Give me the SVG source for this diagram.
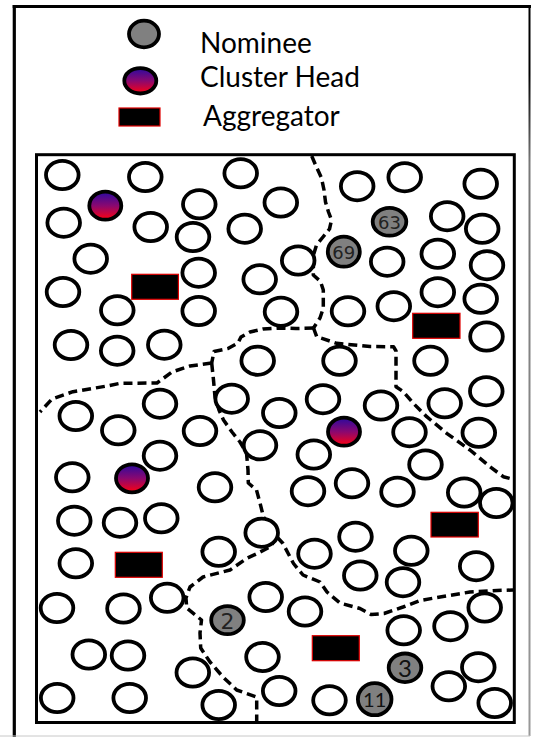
<svg xmlns="http://www.w3.org/2000/svg" width="533" height="737" viewBox="0 0 533 737">
  <style>
    .frame { fill: none; stroke: #000; }
    .n { fill: #fff; stroke: #000; stroke-width: 3.8; }
    .nom { fill: #808080; stroke: #000; stroke-width: 3.8; }
    .ch { fill: url(#chGrad); stroke: #000; stroke-width: 3.8; }
    .agg { fill: #000; stroke: #e00000; stroke-width: 1.2; }
    .legend { font-family: Lato, "Open Sans", sans-serif; font-size: 28px; fill: #000; }
    .num { font-family: "DejaVu Sans", sans-serif; fill: #222; text-anchor: middle; }
    .numc { font-family: Lato, "Open Sans", sans-serif; fill: #111; text-anchor: middle; }
    .border { fill: none; stroke: #000; stroke-width: 3.5; stroke-dasharray: 9 5; stroke-linejoin: round; stroke-linecap: butt; }
  </style>
  <defs>
    <linearGradient id="chGrad" x1="0" y1="0" x2="0" y2="1">
      <stop offset="0" stop-color="#2a0aa0"/>
      <stop offset="0.5" stop-color="#8a0870"/>
      <stop offset="1" stop-color="#ff0010"/>
    </linearGradient>
    <linearGradient id="edgeGrad" x1="0" y1="0" x2="0" y2="737" gradientUnits="userSpaceOnUse">
      <stop offset="0" stop-color="#000"/>
      <stop offset="0.1" stop-color="#000"/>
      <stop offset="0.22" stop-color="#777"/>
      <stop offset="1" stop-color="#999"/>
    </linearGradient>
  </defs>

  <rect width="533" height="737" fill="#fff"/>

  <!-- page frame -->
  <g id="page-frame">
    <line x1="12.7" y1="6.5" x2="531" y2="6.5" stroke="#000" stroke-width="3"/>
    <line x1="14.3" y1="5" x2="14.3" y2="737" stroke="#000" stroke-width="3.2"/>
    <line x1="529.5" y1="5" x2="529.5" y2="736" stroke="url(#edgeGrad)" stroke-width="2"/>
    <line x1="0" y1="736" x2="530" y2="736" stroke="#c8c8c8" stroke-width="1"/>
  </g>

  <!-- legend -->
  <g id="legend">
    <g id="legend-nominee">
      <ellipse class="nom" cx="144" cy="34" rx="15" ry="13.3"/>
      <text class="legend" x="200" y="52.5">Nominee</text>
    </g>
    <g id="legend-cluster-head">
      <ellipse class="ch" cx="140.3" cy="80.8" rx="16" ry="12.7"/>
      <text class="legend" x="200" y="86.5">Cluster Head</text>
    </g>
    <g id="legend-aggregator">
      <rect class="agg" x="119" y="108" width="41" height="18"/>
      <text class="legend" x="203" y="125.5">Aggregator</text>
    </g>
  </g>

  <!-- field -->
  <rect id="field" x="36.5" y="154.7" width="477.8" height="567.8" fill="none" stroke="#000" stroke-width="3"/>

  <!-- cluster boundaries -->
  <g id="connectors">
    <path class="border" d="M311.7,156 L316,166 L321.5,178 L324,190 L325.5,202 L328.5,212 L331.5,220 L329.5,229 L323,237 L316.5,245 L313.5,255 L313.3,275 L320.5,281.5 L323.3,290 L323.3,308 L320,318 L313.5,328"/>
    <path class="border" d="M313.5,328 L296,328.5 L280,328 L263,329 L250,332 L241,337 L238,343 L228,348.5 L214,351.5 L211.7,363"/>
    <path class="border" d="M211.7,363 L190,366 L172,372 L157,383 L120,383.3 L107,386 L73,391.7 L52,399 L40,412"/>
    <path class="border" d="M211.7,363 L213.5,380 L215,397 L219,410 L223.5,420 L232,432 L240,442 L246.5,453 L248,470 L248.3,483 L256.5,490 L260,503 L263.5,517 L270,528 L277,537"/>
    <path class="border" d="M277,537 L283,543.5 L289,555 L293.5,563.5 L303,575 L320,582 L327,592 L340,603 L360,608.5 L371,614.5 L384,613.5 L403,607 L420,600.5 L443,596.5 L470,592 L497,590.5 L513,590"/>
    <path class="border" d="M277,537 L270,547 L256,554 L246.5,558.5 L230,570 L203,577 L190,587 L186,598 L186.7,608 L201.5,620 L200,633 L200.7,648 L210,662 L223,677 L236.7,690 L256.7,697 L256.7,721"/>
    <path class="border" d="M313.5,328 L316.7,336.7 L336.7,343.3 L370,346.5 L393.5,346.7 L396,351 L396,386.7 L403.3,391.7 L413.3,403.3 L426.7,416.7 L446.7,433.3 L470,450 L490,466.7 L503.3,476.7 L510,478.5"/>
  </g>

  <!-- sensor nodes -->
  <g id="nodes">
    <g id="n1"><ellipse class="n" cx="62.3" cy="175" rx="16.3" ry="14.1"/></g>
    <g id="n2"><ellipse class="n" cx="145.3" cy="177" rx="16.3" ry="14.1"/></g>
    <g id="n3"><ellipse class="n" cx="240.7" cy="173.3" rx="16.3" ry="14.1"/></g>
    <g id="n4"><ellipse class="n" cx="199.3" cy="204.3" rx="16.3" ry="14.1"/></g>
    <g id="n5"><ellipse class="n" cx="280.8" cy="202.5" rx="16.3" ry="14.1"/></g>
    <g id="n6"><ellipse class="n" cx="63.7" cy="222.7" rx="16.3" ry="14.1"/></g>
    <g id="n7"><ellipse class="n" cx="150.7" cy="227" rx="16.3" ry="14.1"/></g>
    <g id="n8"><ellipse class="n" cx="193" cy="237" rx="16.3" ry="14.1"/></g>
    <g id="n9"><ellipse class="n" cx="244.7" cy="228.7" rx="16.3" ry="14.1"/></g>
    <g id="n10"><ellipse class="n" cx="90.7" cy="258.7" rx="16.3" ry="14.1"/></g>
    <g id="n11"><ellipse class="n" cx="198.7" cy="272.7" rx="16.3" ry="14.1"/></g>
    <g id="n12"><ellipse class="n" cx="259.7" cy="279.3" rx="16.3" ry="14.1"/></g>
    <g id="n13"><ellipse class="n" cx="63" cy="292" rx="16.3" ry="14.1"/></g>
    <g id="n14"><ellipse class="n" cx="117.3" cy="310.3" rx="16.3" ry="14.1"/></g>
    <g id="n15"><ellipse class="n" cx="198.7" cy="311" rx="16.3" ry="14.1"/></g>
    <g id="n16"><ellipse class="n" cx="281" cy="311.7" rx="16.3" ry="14.1"/></g>
    <g id="n17"><ellipse class="n" cx="71" cy="345" rx="16.3" ry="14.1"/></g>
    <g id="n18"><ellipse class="n" cx="117.2" cy="350.7" rx="16.3" ry="14.1"/></g>
    <g id="n19"><ellipse class="n" cx="164.3" cy="344.7" rx="16.3" ry="14.1"/></g>
    <g id="n20"><ellipse class="n" cx="257.7" cy="360.7" rx="16.3" ry="14.1"/></g>
    <g id="n21"><ellipse class="n" cx="75.8" cy="416" rx="16.3" ry="14.1"/></g>
    <g id="n22"><ellipse class="n" cx="160" cy="403.7" rx="16.3" ry="14.1"/></g>
    <g id="n23"><ellipse class="n" cx="231.7" cy="398.7" rx="16.3" ry="14.1"/></g>
    <g id="n24"><ellipse class="n" cx="279.3" cy="413" rx="16.3" ry="14.1"/></g>
    <g id="n25"><ellipse class="n" cx="118.3" cy="430.3" rx="16.3" ry="14.1"/></g>
    <g id="n26"><ellipse class="n" cx="200" cy="431" rx="16.3" ry="14.1"/></g>
    <g id="n27"><ellipse class="n" cx="260" cy="445.3" rx="16.3" ry="14.1"/></g>
    <g id="n28"><ellipse class="n" cx="160" cy="455.7" rx="16.3" ry="14.1"/></g>
    <g id="n29"><ellipse class="n" cx="72.3" cy="477.3" rx="16.3" ry="14.1"/></g>
    <g id="n30"><ellipse class="n" cx="215" cy="487.3" rx="16.3" ry="14.1"/></g>
    <g id="n31"><ellipse class="n" cx="74.3" cy="520.7" rx="16.3" ry="14.1"/></g>
    <g id="n32"><ellipse class="n" cx="120" cy="522.7" rx="16.3" ry="14.1"/></g>
    <g id="n33"><ellipse class="n" cx="161.3" cy="518.3" rx="16.3" ry="14.1"/></g>
    <g id="n34"><ellipse class="n" cx="261.7" cy="532.7" rx="16.3" ry="14.1"/></g>
    <g id="n35"><ellipse class="n" cx="75.8" cy="563.3" rx="16.3" ry="14.1"/></g>
    <g id="n36"><ellipse class="n" cx="218.7" cy="551.8" rx="16.3" ry="14.1"/></g>
    <g id="n37"><ellipse class="n" cx="57" cy="608" rx="16.3" ry="14.1"/></g>
    <g id="n38"><ellipse class="n" cx="123.5" cy="608.5" rx="16.3" ry="14.1"/></g>
    <g id="n39"><ellipse class="n" cx="167.2" cy="597.8" rx="16.3" ry="14.1"/></g>
    <g id="n40"><ellipse class="n" cx="265.7" cy="597" rx="16.3" ry="14.1"/></g>
    <g id="n41"><ellipse class="n" cx="88.8" cy="654.5" rx="16.3" ry="14.1"/></g>
    <g id="n42"><ellipse class="n" cx="128" cy="655.5" rx="16.3" ry="14.1"/></g>
    <g id="n43"><ellipse class="n" cx="262.5" cy="657" rx="16.3" ry="14.1"/></g>
    <g id="n44"><ellipse class="n" cx="192.8" cy="672.5" rx="16.3" ry="14.1"/></g>
    <g id="n45"><ellipse class="n" cx="57.2" cy="698" rx="16.3" ry="14.1"/></g>
    <g id="n46"><ellipse class="n" cx="129.7" cy="698" rx="16.3" ry="14.1"/></g>
    <g id="n47"><ellipse class="n" cx="218.7" cy="705" rx="16.3" ry="14.1"/></g>
    <g id="n48"><ellipse class="n" cx="279.2" cy="691" rx="16.3" ry="14.1"/></g>
    <g id="n49"><ellipse class="n" cx="355.5" cy="536.7" rx="16.3" ry="14.1"/></g>
    <g id="n50"><ellipse class="n" cx="314.5" cy="553.7" rx="16.3" ry="14.1"/></g>
    <g id="n51"><ellipse class="n" cx="411.3" cy="550.8" rx="16.3" ry="14.1"/></g>
    <g id="n52"><ellipse class="n" cx="476.2" cy="566.2" rx="16.3" ry="14.1"/></g>
    <g id="n53"><ellipse class="n" cx="360.3" cy="575.5" rx="16.3" ry="14.1"/></g>
    <g id="n54"><ellipse class="n" cx="403" cy="582.2" rx="16.3" ry="14.1"/></g>
    <g id="n55"><ellipse class="n" cx="305" cy="611.5" rx="16.3" ry="14.1"/></g>
    <g id="n56"><ellipse class="n" cx="484.7" cy="607.5" rx="16.3" ry="14.1"/></g>
    <g id="n57"><ellipse class="n" cx="403.7" cy="630.3" rx="16.3" ry="14.1"/></g>
    <g id="n58"><ellipse class="n" cx="450.5" cy="626.2" rx="16.3" ry="14.1"/></g>
    <g id="n59"><ellipse class="n" cx="478.3" cy="667.2" rx="16.3" ry="14.1"/></g>
    <g id="n60"><ellipse class="n" cx="448.8" cy="686.3" rx="16.3" ry="14.1"/></g>
    <g id="n61"><ellipse class="n" cx="329.5" cy="700.3" rx="16.3" ry="14.1"/></g>
    <g id="n62"><ellipse class="n" cx="494.7" cy="703" rx="16.3" ry="14.1"/></g>
    <g id="n63"><ellipse class="n" cx="357.2" cy="186.2" rx="16.3" ry="14.1"/></g>
    <g id="n64"><ellipse class="n" cx="404.7" cy="177.2" rx="16.3" ry="14.1"/></g>
    <g id="n65"><ellipse class="n" cx="480.7" cy="183.8" rx="16.3" ry="14.1"/></g>
    <g id="n66"><ellipse class="n" cx="447.2" cy="216.2" rx="16.3" ry="14.1"/></g>
    <g id="n67"><ellipse class="n" cx="482.2" cy="228.8" rx="16.3" ry="14.1"/></g>
    <g id="n68"><ellipse class="n" cx="387.2" cy="261.7" rx="16.3" ry="14.1"/></g>
    <g id="n69"><ellipse class="n" cx="437.8" cy="253.8" rx="16.3" ry="14.1"/></g>
    <g id="n70"><ellipse class="n" cx="487" cy="265.2" rx="16.3" ry="14.1"/></g>
    <g id="n71"><ellipse class="n" cx="298.2" cy="260.5" rx="16.3" ry="14.1"/></g>
    <g id="n72"><ellipse class="n" cx="437.8" cy="292.2" rx="16.3" ry="14.1"/></g>
    <g id="n73"><ellipse class="n" cx="480.7" cy="298.8" rx="16.3" ry="14.1"/></g>
    <g id="n74"><ellipse class="n" cx="393.8" cy="306.2" rx="16.3" ry="14.1"/></g>
    <g id="n75"><ellipse class="n" cx="348" cy="311.3" rx="16.3" ry="14.1"/></g>
    <g id="n76"><ellipse class="n" cx="486.5" cy="336.5" rx="16.3" ry="14.1"/></g>
    <g id="n77"><ellipse class="n" cx="339.5" cy="360.8" rx="16.3" ry="14.1"/></g>
    <g id="n78"><ellipse class="n" cx="430.5" cy="360.8" rx="16.3" ry="14.1"/></g>
    <g id="n79"><ellipse class="n" cx="486.3" cy="391.2" rx="16.3" ry="14.1"/></g>
    <g id="n80"><ellipse class="n" cx="323" cy="399.2" rx="16.3" ry="14.1"/></g>
    <g id="n81"><ellipse class="n" cx="381" cy="405.5" rx="16.3" ry="14.1"/></g>
    <g id="n82"><ellipse class="n" cx="444.7" cy="403.3" rx="16.3" ry="14.1"/></g>
    <g id="n83"><ellipse class="n" cx="409.5" cy="432.2" rx="16.3" ry="14.1"/></g>
    <g id="n84"><ellipse class="n" cx="478.8" cy="432.8" rx="16.3" ry="14.1"/></g>
    <g id="n85"><ellipse class="n" cx="313.8" cy="454.5" rx="16.3" ry="14.1"/></g>
    <g id="n86"><ellipse class="n" cx="425.5" cy="464.5" rx="16.3" ry="14.1"/></g>
    <g id="n87"><ellipse class="n" cx="308" cy="491.2" rx="16.3" ry="14.1"/></g>
    <g id="n88"><ellipse class="n" cx="352" cy="483.3" rx="16.3" ry="14.1"/></g>
    <g id="n89"><ellipse class="n" cx="397.5" cy="491.7" rx="16.3" ry="14.1"/></g>
    <g id="n90"><ellipse class="n" cx="464.2" cy="492.5" rx="16.3" ry="14.1"/></g>
    <g id="n91"><ellipse class="n" cx="496.3" cy="503" rx="16.3" ry="14.1"/></g>

    <!-- cluster heads -->
    <g id="ch1"><ellipse class="ch" cx="105.3" cy="205.7" rx="16" ry="14"/></g>
    <g id="ch2"><ellipse class="ch" cx="132" cy="478.3" rx="16" ry="14"/></g>
    <g id="ch3"><ellipse class="ch" cx="344" cy="431.7" rx="16" ry="14"/></g>

    <!-- nominees -->
    <g id="nom63"><ellipse class="nom" cx="389.5" cy="221.8" rx="16.8" ry="13.9"/><text class="num" x="389.5" y="228.5" font-size="18">63</text></g>
    <g id="nom69"><ellipse class="nom" cx="343.8" cy="251.7" rx="16" ry="15"/><text class="num" x="343.8" y="258.5" font-size="18">69</text></g>
    <g id="nom2"><ellipse class="nom" cx="227.5" cy="620.2" rx="16.3" ry="14"/><text class="num" x="227.5" y="628.5" font-size="22">2</text></g>
    <g id="nom3"><ellipse class="nom" cx="405" cy="667.8" rx="16.3" ry="14.3"/><text class="numc" x="405" y="676.5" font-size="24">3</text></g>
    <g id="nom11"><ellipse class="nom" cx="374.7" cy="699.2" rx="16.8" ry="16"/><text class="numc" x="374.7" y="706.5" font-size="20">11</text></g>

    <!-- aggregators -->
    <g id="agg1"><rect class="agg" x="131.7" y="274.3" width="46.7" height="25"/></g>
    <g id="agg2"><rect class="agg" x="412.7" y="313.3" width="47.3" height="25"/></g>
    <g id="agg3"><rect class="agg" x="115.3" y="552.3" width="47" height="25"/></g>
    <g id="agg4"><rect class="agg" x="431" y="512.3" width="47.3" height="24.7"/></g>
    <g id="agg5"><rect class="agg" x="312.3" y="635.7" width="47" height="25"/></g>
  </g>
</svg>
